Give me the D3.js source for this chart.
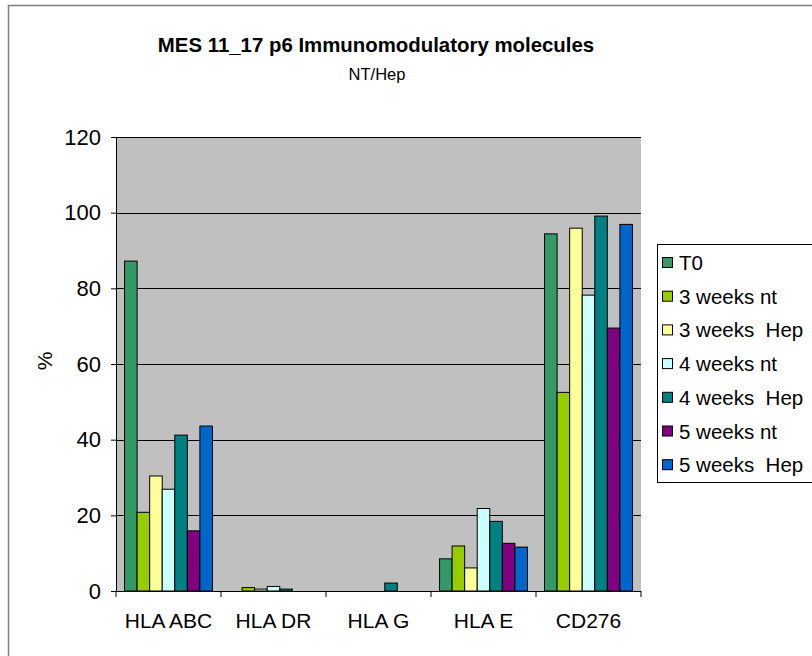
<!DOCTYPE html>
<html>
<head>
<meta charset="utf-8">
<script src="https://cdn.jsdelivr.net/npm/d3@7/dist/d3.min.js"></script>
<style>
  html, body { margin: 0; padding: 0; background: #fff; }
  svg { display: block; font-family: "Liberation Sans", Arial, sans-serif; }
</style>
</head>
<body>
<svg id="chart" width="812" height="656"></svg>
<script>
// Markers along the x axis
const categories = ["HLA ABC", "HLA DR", "HLA G", "HLA E", "CD276"];

// Culture conditions (legend order)
const seriesNames = ["T0", "3 weeks nt", "3 weeks  Hep", "4 weeks nt", "4 weeks  Hep", "5 weeks nt", "5 weeks  Hep"];
const seriesColors = ["#339966", "#99CC00", "#FFFF99", "#CCFFFF", "#008080", "#800080", "#0066CC"];

// Percentage of positive cells, one array per condition, in category order
const t0       = [87.2, 0.0, 0.0,  8.5, 94.4];
const wk3nt    = [20.8, 0.9, 0.0, 11.9, 52.5];
const wk3hep   = [30.4, 0.5, 0.0,  6.1, 95.9];
const wk4nt    = [26.9, 1.2, 0.0, 21.8, 78.2];
const wk4hep   = [41.2, 0.5, 2.1, 18.4, 99.1];
const wk5nt    = [15.9, 0.0, 0.0, 12.6, 69.5];
const wk5hep   = [43.6, 0.0, 0.0, 11.6, 96.9];
const seriesValues = [t0, wk3nt, wk3hep, wk4nt, wk4hep, wk5nt, wk5hep];

const yTicks = [0, 20, 40, 60, 80, 100, 120];

const svg = d3.select("#chart");

// outer chart frame (runs off the right and bottom edges)
svg.append("rect")
  .attr("x", 8.5).attr("y", 5.5)
  .attr("width", 900).attr("height", 800)
  .attr("fill", "#fff").attr("stroke", "#808080").attr("stroke-width", 1.5);

const plot = { left: 116, top: 137, right: 641, bottom: 591 };

const x0 = d3.scaleBand()
  .domain(categories)
  .range([plot.left, plot.right]);

const x1 = d3.scaleBand()
  .domain(seriesNames)
  .range([0, x0.bandwidth()])
  .paddingOuter(0.68);

const y = d3.scaleLinear()
  .domain([0, 120])
  .range([plot.bottom, plot.top]);

// plot area background
svg.append("rect")
  .attr("x", plot.left).attr("y", plot.top)
  .attr("width", plot.right - plot.left).attr("height", plot.bottom - plot.top)
  .attr("fill", "#C0C0C0");

// horizontal gridlines
svg.append("g")
  .selectAll("line")
  .data(yTicks.filter(d => d > 0))
  .join("line")
  .attr("x1", plot.left).attr("x2", plot.right)
  .attr("y1", d => Math.round(y(d)) + 0.5).attr("y2", d => Math.round(y(d)) + 0.5)
  .attr("stroke", "#000").attr("stroke-width", 1);

// bars
const rows = [];
seriesNames.forEach((s, i) => {
  categories.forEach((c, j) => {
    rows.push({ series: s, cat: c, value: seriesValues[i][j], color: seriesColors[i] });
  });
});

svg.append("g")
  .selectAll("rect")
  .data(rows.filter(d => d.value > 0))
  .join("rect")
  .attr("x", d => x0(d.cat) + x1(d.series))
  .attr("y", d => y(d.value))
  .attr("width", x1.bandwidth())
  .attr("height", d => y(0) - y(d.value))
  .attr("fill", d => d.color)
  .attr("stroke", "#000")
  .attr("stroke-width", 1);

// y axis
const yAxis = d3.axisLeft(y).tickValues(yTicks).tickSize(5).tickSizeOuter(0).tickPadding(10);
const gy = svg.append("g")
  .attr("transform", `translate(${plot.left},0)`)
  .call(yAxis);
gy.select(".domain").attr("stroke", "#000");
gy.selectAll(".tick line").attr("stroke", "#000");
gy.selectAll(".tick text")
  .attr("font-size", 22).attr("fill", "#000")
  .attr("font-family", "Liberation Sans, Arial, sans-serif");

// x axis with ticks at category boundaries
const gx = svg.append("g")
  .attr("transform", `translate(0,${plot.bottom})`);
gx.append("line")
  .attr("x1", plot.left).attr("x2", plot.right)
  .attr("y1", 0.5).attr("y2", 0.5)
  .attr("stroke", "#000");
const boundaries = categories.map(c => x0(c)).concat([x0.range()[1]]);
gx.selectAll("line.tick")
  .data(boundaries)
  .join("line")
  .attr("class", "tick")
  .attr("x1", d => d).attr("x2", d => d)
  .attr("y1", 0).attr("y2", 6)
  .attr("stroke", "#000");
gx.selectAll("text")
  .data(categories)
  .join("text")
  .attr("x", d => x0(d) + x0.bandwidth() / 2)
  .attr("y", 37)
  .attr("text-anchor", "middle")
  .attr("font-size", 21)
  .text(d => d);

// y axis title
svg.append("text")
  .attr("transform", "translate(52,361) rotate(-90)")
  .attr("text-anchor", "middle")
  .attr("font-size", 21)
  .text("%");

// titles
svg.append("text")
  .attr("x", 376).attr("y", 52)
  .attr("text-anchor", "middle")
  .attr("font-size", 20.4).attr("font-weight", "bold")
  .text("MES 11_17 p6 Immunomodulatory molecules");
svg.append("text")
  .attr("x", 377).attr("y", 80)
  .attr("text-anchor", "middle")
  .attr("font-size", 16.5)
  .text("NT/Hep");

// legend
const legend = svg.append("g").attr("transform", "translate(657,244)");
legend.append("rect")
  .attr("x", 0.5).attr("y", 0.5)
  .attr("width", 200).attr("height", 238)
  .attr("fill", "#fff").attr("stroke", "#000");
const item = legend.selectAll("g.item")
  .data(seriesNames)
  .join("g")
  .attr("class", "item")
  .attr("transform", (d, i) => `translate(0,${19 + i * 33.7})`);
item.append("rect")
  .attr("x", 5.5).attr("y", -5.5)
  .attr("width", 10).attr("height", 10)
  .attr("fill", (d, i) => seriesColors[i])
  .attr("stroke", "#000");
item.append("text")
  .attr("x", 22).attr("y", 7)
  .attr("font-size", 20.5)
  .style("white-space", "pre")
  .text(d => d);
</script>
</body>
</html>
